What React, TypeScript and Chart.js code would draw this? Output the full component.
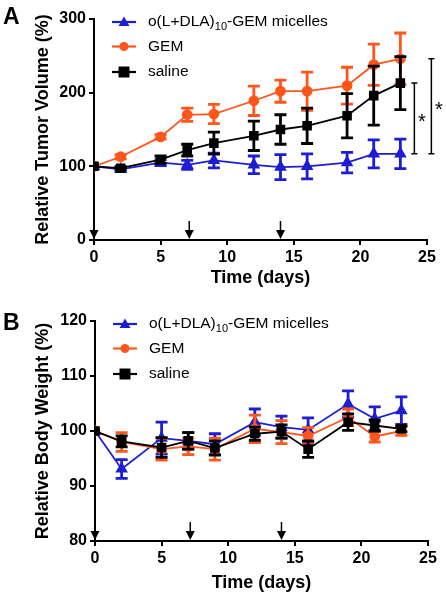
import React, { useEffect, useRef } from 'react';
import { Chart, registerables } from 'chart.js';

Chart.register(...registerables);

// ---------- DATA ----------
const days = [0, 2, 5, 7, 9, 12, 14, 16, 19, 21, 23];

// Panel A: relative tumor volume (%)
const micellesVolume = [100, 96, 105, 102, 108, 102, 99, 100, 105, 117, 117];
const micellesVolumeErr = [0, 3, 4, 6, 10, 12, 17, 17, 14, 19, 20];
const gemVolume = [100, 113, 140, 170, 171, 189, 202, 202, 209.5, 238, 246];
const gemVolumeErr = [0, 3, 3, 9, 13, 20, 15, 26, 25, 28, 35];
const salineVolume = [100, 97.5, 109, 122, 131.5, 141.5, 150, 155, 168.7, 196, 213];
const salineVolumeErr = [0, 2, 5, 8, 15, 20, 20, 24, 30, 40, 36];

// Panel B: relative body weight (%)
const micellesWeight = [100, 93.1, 98.7, 98.2, 97.6, 101.6, 100.7, 100.2, 104.9, 102.2, 103.7];
const micellesWeightErr = [0, 1.7, 2.9, 1.5, 1.9, 2.4, 2.0, 2.2, 2.4, 2.2, 2.5];
const gemWeight = [100, 98, 96.7, 97.2, 96.7, 100.4, 99.8, 99.1, 102.5, 99, 100];
const gemWeightErr = [0, 1.7, 2, 1.5, 2, 2.5, 2.1, 1.5, 1.5, 1.0, 0.8];
const salineWeight = [100, 98.1, 97.0, 98.2, 96.9, 99.5, 99.9, 96.7, 101.6, 101, 100.4];
const salineWeightErr = [0, 1, 1.8, 1.5, 1.3, 1.2, 1.2, 1.5, 1.5, 1.0, 0.5];

const dosingDays = [0, 7.15, 14];
const seriesNames = ['o(L+DLA)', '10', '-GEM micelles'];
const gemName = 'GEM';
const salineName = 'saline';
const xTitle = 'Time (days)';
const yTitleA = 'Relative Tumor Volume (%)';
const yTitleB = 'Relative Body Weight (%)';

// ---------- STYLE ----------
const BLUE = '#1d1dd3';
const ORANGE = '#ff561c';
const BLACK = '#000000';
const FONT = 'Arial, "Liberation Sans", sans-serif';

type Series = { values: number[]; errs: number[] };

function makeDatasets(mic: Series, gem: Series, sal: Series) {
  const pts = (v: number[]) => v.map((y, i) => ({ x: days[i], y }));
  return [
    {
      label: 'micelles', data: pts(mic.values), errors: mic.errs,
      borderColor: BLUE, backgroundColor: BLUE, pointStyle: 'triangle', pointRadius: 5.5,
      borderWidth: 1.8, order: 3,
    },
    {
      label: 'GEM', data: pts(gem.values), errors: gem.errs,
      borderColor: ORANGE, backgroundColor: ORANGE, pointStyle: 'circle', pointRadius: 4.5,
      borderWidth: 1.8, order: 2,
    },
    {
      label: 'saline', data: pts(sal.values), errors: sal.errs,
      borderColor: BLACK, backgroundColor: BLACK, pointStyle: 'rect', pointRadius: 5.5,
      borderWidth: 1.8, order: 1,
    },
  ];
}

const errorBarPlugin = {
  id: 'errorBars',
  afterDatasetDraw(chart: any, args: any) {
    const ds = chart.data.datasets[args.index];
    const errs: number[] = ds.errors || [];
    const xs = chart.scales.x;
    const ys = chart.scales.y;
    const ctx = chart.ctx;
    ctx.save();
    ctx.strokeStyle = ds.borderColor;
    ctx.lineWidth = 2.8;
    ds.data.forEach((p: any, i: number) => {
      const e = errs[i];
      if (!e) return;
      const x = xs.getPixelForValue(p.x);
      const yTop = ys.getPixelForValue(p.y + e);
      const yBot = ys.getPixelForValue(p.y - e);
      ctx.beginPath();
      ctx.moveTo(x, yTop);
      ctx.lineTo(x, yBot);
      ctx.moveTo(x - 6, yTop);
      ctx.lineTo(x + 6, yTop);
      ctx.moveTo(x - 6, yBot);
      ctx.lineTo(x + 6, yBot);
      ctx.stroke();
    });
    ctx.restore();
  },
};

function drawMarker(ctx: CanvasRenderingContext2D, style: string, x: number, y: number, color: string) {
  ctx.fillStyle = color;
  ctx.beginPath();
  if (style === 'triangle') {
    ctx.moveTo(x, y - 5.5);
    ctx.lineTo(x + 5.5, y + 4);
    ctx.lineTo(x - 5.5, y + 4);
    ctx.closePath();
  } else if (style === 'circle') {
    ctx.arc(x, y, 4.5, 0, Math.PI * 2);
  } else {
    ctx.rect(x - 5.5, y - 5.5, 11, 11);
  }
  ctx.fill();
}

function makeOverlayPlugin(brackets: boolean) {
  return {
    id: 'overlay',
    afterDraw(chart: any) {
      const ctx: CanvasRenderingContext2D = chart.ctx;
      const xs = chart.scales.x;
      const ys = chart.scales.y;
      const area = chart.chartArea;
      ctx.save();
      // dosing arrows
      ctx.strokeStyle = BLACK;
      ctx.fillStyle = BLACK;
      ctx.lineWidth = 1.5;
      dosingDays.forEach((d) => {
        const x = xs.getPixelForValue(d);
        const tip = area.bottom - 1;
        ctx.beginPath();
        ctx.moveTo(x, tip - 18);
        ctx.lineTo(x, tip - 6);
        ctx.stroke();
        ctx.beginPath();
        ctx.moveTo(x - 4.5, tip - 9);
        ctx.lineTo(x + 4.5, tip - 9);
        ctx.lineTo(x, tip);
        ctx.closePath();
        ctx.fill();
      });

      // legend
      const rows = [
        { style: 'triangle', color: BLUE, parts: seriesNames },
        { style: 'circle', color: ORANGE, parts: [gemName] },
        { style: 'rect', color: BLACK, parts: [salineName] },
      ];
      const offs = [3, 27.5, 53];
      rows.forEach((r, i) => {
        const y = area.top + offs[i];
        const x0 = area.left + 18;
        ctx.strokeStyle = r.color;
        ctx.lineWidth = 2.2;
        ctx.beginPath();
        ctx.moveTo(x0, y);
        ctx.lineTo(x0 + 24, y);
        ctx.stroke();
        drawMarker(ctx, r.style, x0 + 12, y, r.color);
        ctx.fillStyle = BLACK;
        ctx.textBaseline = 'middle';
        ctx.textAlign = 'left';
        let tx = x0 + 36;
        r.parts.forEach((t, j) => {
          const sub = r.parts.length > 1 && j === 1;
          ctx.font = sub ? `11px ${FONT}` : `15.5px ${FONT}`;
          ctx.fillText(t, tx, sub ? y + 5 : y);
          tx += ctx.measureText(t).width;
        });
      });

      // significance brackets (panel A)
      if (brackets) {
        const last = days.length - 1;
        const baseX = xs.getPixelForValue(days[last]);
        const yLow = ys.getPixelForValue(micellesVolume[last]);
        const pairs = [
          { top: ys.getPixelForValue(salineVolume[last]), x: baseX + 14 },
          { top: ys.getPixelForValue(gemVolume[last]), x: baseX + 31 },
        ];
        ctx.strokeStyle = BLACK;
        ctx.lineWidth = 1.5;
        ctx.fillStyle = BLACK;
        ctx.font = `20px ${FONT}`;
        ctx.textAlign = 'center';
        ctx.textBaseline = 'middle';
        pairs.forEach((p) => {
          ctx.beginPath();
          ctx.moveTo(p.x, p.top);
          ctx.lineTo(p.x, yLow);
          ctx.moveTo(p.x - 3, p.top);
          ctx.lineTo(p.x + 3, p.top);
          ctx.moveTo(p.x - 3, yLow);
          ctx.lineTo(p.x + 3, yLow);
          ctx.stroke();
          ctx.fillText('*', p.x + 7.5, (p.top + yLow) / 2 + 4);
        });
      }
      ctx.restore();
    },
  };
}

function buildConfig(opts: {
  datasets: any[]; yMin: number; yMax: number; yStep: number; yTitle: string;
  padLeft: number; padRight: number; padTop: number; padBottom: number;
  yWidth: number; xHeight: number; brackets: boolean;
}) {
  const tickFont = { family: FONT, size: 16, weight: 'bold' as const };
  const titleFont = { family: FONT, size: 18, weight: 'bold' as const };
  const axisCommon = {
    border: { display: true, color: BLACK, width: 2 },
    grid: { display: true, drawOnChartArea: false, drawTicks: true, tickLength: 5, color: BLACK, lineWidth: 2 },
  };
  return {
    type: 'line' as const,
    data: { datasets: opts.datasets },
    options: {
      animation: false,
      responsive: false,
      layout: { padding: { left: opts.padLeft, right: opts.padRight, top: opts.padTop, bottom: opts.padBottom } },
      plugins: { legend: { display: false }, tooltip: { enabled: false } },
      scales: {
        x: {
          type: 'linear',
          min: 0, max: 25,
          ...axisCommon,
          ticks: { stepSize: 5, color: BLACK, font: tickFont, padding: 3, maxRotation: 0 },
          title: { display: true, text: xTitle, color: BLACK, font: titleFont, padding: { top: 4, bottom: 4 } },
          afterFit: (s: any) => { s.height = opts.xHeight; },
        },
        y: {
          type: 'linear',
          min: opts.yMin, max: opts.yMax,
          ...axisCommon,
          ticks: { stepSize: opts.yStep, color: BLACK, font: tickFont, padding: 3 },
          title: { display: true, text: opts.yTitle, color: BLACK, font: titleFont, padding: { top: 4, bottom: 4 } },
          afterFit: (s: any) => { s.width = opts.yWidth; },
        },
      },
    },
    plugins: [errorBarPlugin, makeOverlayPlugin(opts.brackets)],
  };
}

function ChartCanvas({ config, width, height, top }: { config: () => any; width: number; height: number; top: number }) {
  const ref = useRef<HTMLCanvasElement | null>(null);
  useEffect(() => {
    if (!ref.current) return;
    const chart = new Chart(ref.current, config());
    return () => chart.destroy();
  }, []);
  return (
    <canvas
      ref={ref}
      width={width}
      height={height}
      style={{ position: 'absolute', left: 0, top, width, height }}
    />
  );
}

export default function App() {
  const configA = () =>
    buildConfig({
      datasets: makeDatasets(
        { values: micellesVolume, errs: micellesVolumeErr },
        { values: gemVolume, errs: gemVolumeErr },
        { values: salineVolume, errs: salineVolumeErr },
      ),
      yMin: 0, yMax: 300, yStep: 100, yTitle: yTitleA,
      padLeft: 28, padRight: 19, padTop: 19, padBottom: 7,
      yWidth: 66, xHeight: 53, brackets: true,
    });
  const configB = () =>
    buildConfig({
      datasets: makeDatasets(
        { values: micellesWeight, errs: micellesWeightErr },
        { values: gemWeight, errs: gemWeightErr },
        { values: salineWeight, errs: salineWeightErr },
      ),
      yMin: 80, yMax: 120, yStep: 10, yTitle: yTitleB,
      padLeft: 28, padRight: 18, padTop: 21, padBottom: 2,
      yWidth: 67, xHeight: 57, brackets: false,
    });
  const letter: React.CSSProperties = {
    position: 'absolute', left: 3, fontFamily: FONT, fontWeight: 'bold', fontSize: 23, lineHeight: '23px', color: BLACK,
  };
  return (
    <div style={{ position: 'absolute', left: 0, top: 0, width: 446, height: 600, background: '#fff', overflow: 'hidden' }}>
      <ChartCanvas config={configA} width={446} height={300} top={0} />
      <ChartCanvas config={configB} width={446} height={300} top={300} />
      <div style={{ ...letter, top: 5 }}>A</div>
      <div style={{ ...letter, top: 311 }}>B</div>
    </div>
  );
}
